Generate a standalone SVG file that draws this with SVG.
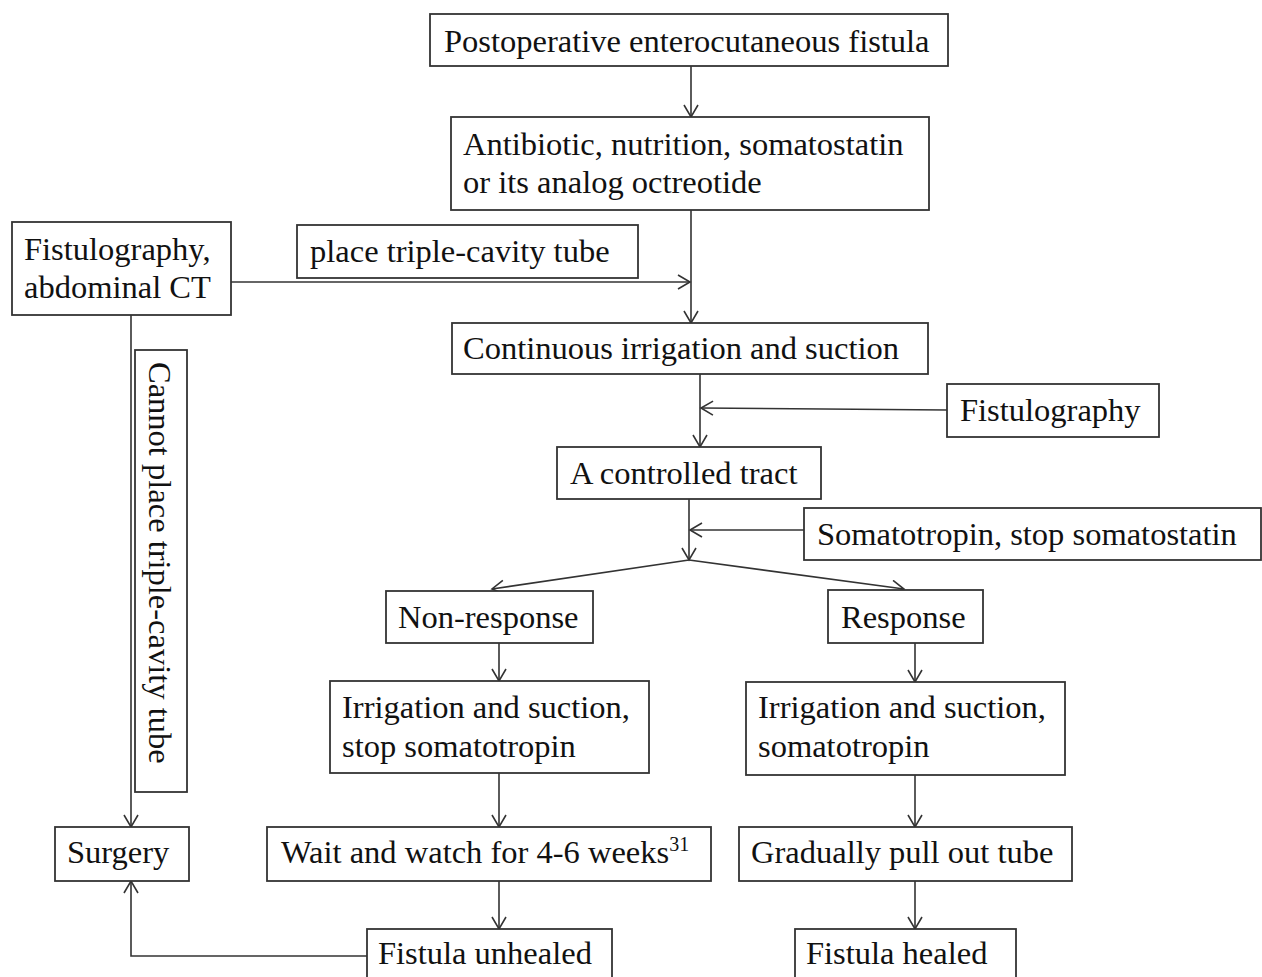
<svg xmlns="http://www.w3.org/2000/svg" width="1262" height="977" viewBox="0 0 1262 977">
<style>
.box{fill:#fff;stroke:#333;stroke-width:1.8}
.t{font-family:"Liberation Serif","Times New Roman",serif;font-size:32.5px;fill:#111}
.c{fill:none;stroke:#333;stroke-width:1.6}
</style>
<defs>
<marker id="ah" markerUnits="userSpaceOnUse" markerWidth="16" markerHeight="18" viewBox="0 0 16 18" refX="13" refY="8" orient="auto">
<path d="M1,1 L13,8 L1,15" fill="none" stroke="#333" stroke-width="1.6"/>
</marker>
</defs>
<rect width="1262" height="977" fill="#fff"/>
<g id="connectors">
<line class="c" x1="691" y1="66" x2="691" y2="117" marker-end="url(#ah)"/>
<line class="c" x1="691" y1="210" x2="691" y2="323" marker-end="url(#ah)"/>
<line class="c" x1="231" y1="282" x2="690" y2="282" marker-end="url(#ah)"/>
<line class="c" x1="700" y1="374" x2="700" y2="447" marker-end="url(#ah)"/>
<line class="c" x1="947" y1="410" x2="701" y2="408" marker-end="url(#ah)"/>
<line class="c" x1="689" y1="499" x2="689" y2="560" marker-end="url(#ah)"/>
<line class="c" x1="804" y1="530" x2="690" y2="530" marker-end="url(#ah)"/>
<line class="c" x1="689" y1="560" x2="492" y2="589" marker-end="url(#ah)"/>
<line class="c" x1="689" y1="560" x2="904" y2="589" marker-end="url(#ah)"/>
<line class="c" x1="499" y1="643" x2="499" y2="681" marker-end="url(#ah)"/>
<line class="c" x1="499" y1="773" x2="499" y2="827" marker-end="url(#ah)"/>
<line class="c" x1="499" y1="881" x2="499" y2="929" marker-end="url(#ah)"/>
<line class="c" x1="915" y1="643" x2="915" y2="682" marker-end="url(#ah)"/>
<line class="c" x1="915" y1="775" x2="915" y2="827" marker-end="url(#ah)"/>
<line class="c" x1="915" y1="881" x2="915" y2="929" marker-end="url(#ah)"/>
<line class="c" x1="131" y1="315" x2="131" y2="827" marker-end="url(#ah)"/>
<polyline class="c" points="367,956 131,956 131,881" marker-end="url(#ah)"/>
</g>
<g id="n-postop">
<rect class="box" x="430" y="14" width="518" height="52"/>
<text class="t" x="444" y="52">Postoperative enterocutaneous fistula</text>
</g>
<g id="n-antibiotic">
<rect class="box" x="451" y="117" width="478" height="93"/>
<text class="t" x="463" y="155">Antibiotic, nutrition, somatostatin</text>
<text class="t" x="463" y="193">or its analog octreotide</text>
</g>
<g id="n-fistulo-ct">
<rect class="box" x="12" y="222" width="219" height="93"/>
<text class="t" x="24" y="260">Fistulography,</text>
<text class="t" x="24" y="298">abdominal CT</text>
</g>
<g id="n-place">
<rect class="box" x="297" y="225" width="341" height="53"/>
<text class="t" x="310" y="262">place triple-cavity tube</text>
</g>
<g id="n-continuous">
<rect class="box" x="452" y="323" width="476" height="51"/>
<text class="t" x="463" y="359">Continuous irrigation and suction</text>
</g>
<g id="n-fistulo">
<rect class="box" x="947" y="384" width="212" height="53"/>
<text class="t" x="960" y="421">Fistulography</text>
</g>
<g id="n-controlled">
<rect class="box" x="557" y="447" width="264" height="52"/>
<text class="t" x="570" y="484">A controlled tract</text>
</g>
<g id="n-somatotropin">
<rect class="box" x="804" y="508" width="457" height="52"/>
<text class="t" x="817" y="545">Somatotropin, stop somatostatin</text>
</g>
<g id="n-cannot">
<rect class="box" x="135" y="350" width="52" height="442"/>
<text class="t" x="149" y="362" transform="rotate(90 149 362)">Cannot place triple-cavity tube</text>
</g>
<g id="n-nonresponse">
<rect class="box" x="386" y="591" width="207" height="52"/>
<text class="t" x="398" y="628">Non-response</text>
</g>
<g id="n-response">
<rect class="box" x="828" y="590" width="155" height="53"/>
<text class="t" x="841" y="628">Response</text>
</g>
<g id="n-irr-stop">
<rect class="box" x="330" y="681" width="319" height="92"/>
<text class="t" x="342" y="718">Irrigation and suction,</text>
<text class="t" x="342" y="757">stop somatotropin</text>
</g>
<g id="n-irr-soma">
<rect class="box" x="746" y="682" width="319" height="93"/>
<text class="t" x="758" y="718">Irrigation and suction,</text>
<text class="t" x="758" y="757">somatotropin</text>
</g>
<g id="n-surgery">
<rect class="box" x="55" y="827" width="134" height="54"/>
<text class="t" x="67" y="863">Surgery</text>
</g>
<g id="n-wait">
<rect class="box" x="267" y="827" width="444" height="54"/>
<text class="t" x="281" y="863">Wait and watch for 4-6 weeks<tspan font-size="20" dy="-12">31</tspan></text>
</g>
<g id="n-gradually">
<rect class="box" x="739" y="827" width="333" height="54"/>
<text class="t" x="751" y="863">Gradually pull out tube</text>
</g>
<g id="n-unhealed">
<rect class="box" x="367" y="929" width="245" height="60"/>
<text class="t" x="378" y="964">Fistula unhealed</text>
</g>
<g id="n-healed">
<rect class="box" x="795" y="929" width="221" height="60"/>
<text class="t" x="806" y="964">Fistula healed</text>
</g>
</svg>
